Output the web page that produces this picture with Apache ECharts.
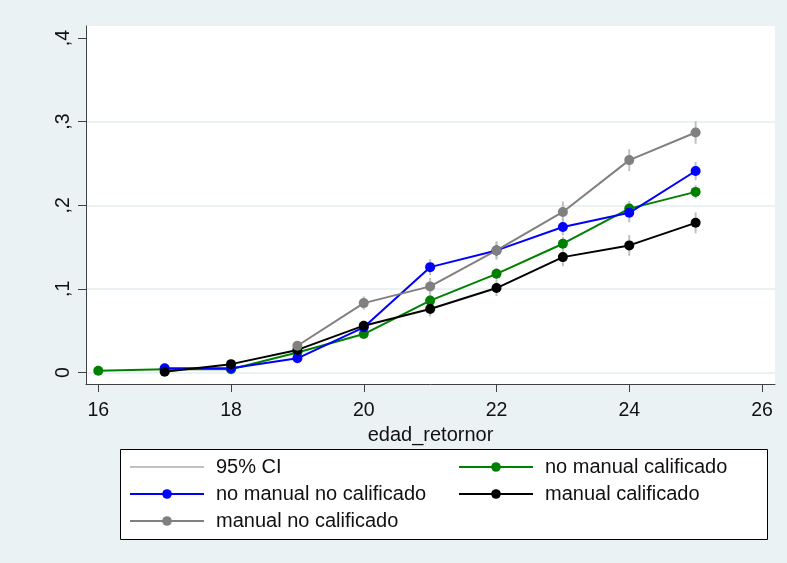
<!DOCTYPE html>
<html>
<head>
<meta charset="utf-8">
<script src="https://cdn.jsdelivr.net/npm/echarts@6/dist/echarts.min.js"></script>
<style>
  html, body { margin: 0; padding: 0; background: #eaf2f3; }
  #chart { width: 787px; height: 563px; }
</style>
</head>
<body>
<div id="chart"></div>
<script>
// edades
var ages = [16, 17, 18, 19, 20, 21, 22, 23, 24, 25];
var xTicks = [16, 18, 20, 22, 24, 26];
var yTicks = [0, 0.1, 0.2, 0.3, 0.4];

// proporciones por grupo (null = sin dato)
var noManualCalif   = [0.002, 0.004, 0.004, 0.024, 0.046, 0.086, 0.118, 0.154, 0.196, 0.216];
var noManualNoCalif = [null, 0.005, 0.005, 0.017, 0.054, 0.126, 0.146, 0.174, 0.191, 0.241];
var manualCalif     = [null, 0.001, 0.010, 0.027, 0.056, 0.076, 0.101, 0.138, 0.152, 0.179];
var manualNoCalif   = [null, null, null, 0.032, 0.083, 0.103, 0.146, 0.192, 0.254, 0.287];

// medio ancho del IC 95%
var ciNoManualCalif   = [0.002, 0.002, 0.002, 0.004, 0.005, 0.007, 0.007, 0.008, 0.009, 0.008];
var ciNoManualNoCalif = [null, 0.003, 0.003, 0.004, 0.006, 0.0095, 0.010, 0.010, 0.0115, 0.011];
var ciManualCalif     = [null, 0.002, 0.003, 0.004, 0.006, 0.009, 0.0095, 0.011, 0.0125, 0.0125];
var ciManualNoCalif   = [null, null, null, 0.005, 0.008, 0.010, 0.011, 0.0125, 0.013, 0.0135];

var groups = [
    { name: 'no manual calificado', vals: noManualCalif, ci: ciNoManualCalif, color: '#008000' },
    { name: 'no manual no calificado', vals: noManualNoCalif, ci: ciNoManualNoCalif, color: '#0000ff' },
    { name: 'manual calificado', vals: manualCalif, ci: ciManualCalif, color: '#000000' },
    { name: 'manual no calificado', vals: manualNoCalif, ci: ciManualNoCalif, color: '#808080' }
];

function toPairs(vals) {
    var out = [];
    ages.forEach(function (a, i) {
        if (vals[i] !== null) out.push([a, vals[i]]);
    });
    return out;
}

var ciData = [];
groups.forEach(function (g) {
    ages.forEach(function (a, i) {
        if (g.vals[i] !== null) ciData.push([a, g.vals[i] - g.ci[i], g.vals[i] + g.ci[i]]);
    });
});

var chart = echarts.init(document.getElementById('chart'), null, { renderer: 'canvas' });

var series = [{
    name: '95% CI',
    type: 'custom',
    data: ciData,
    itemStyle: { color: '#c0c0c0' },
    renderItem: function (params, api) {
        var p1 = api.coord([api.value(0), api.value(1)]);
        var p2 = api.coord([api.value(0), api.value(2)]);
        return {
            type: 'line',
            shape: { x1: p1[0], y1: p1[1], x2: p2[0], y2: p2[1] },
            style: { stroke: '#c0c0c0', lineWidth: 2 }
        };
    }
}];

groups.forEach(function (g) {
    series.push({
        name: g.name,
        type: 'line',
        data: toPairs(g.vals),
        symbol: 'circle',
        symbolSize: 10,
        color: g.color,
        lineStyle: { color: g.color, width: 2 },
        itemStyle: { color: g.color }
    });
});

var fontFam = '"Liberation Sans", Arial, sans-serif';
var legendText = { fontFamily: fontFam, fontSize: 20, color: '#111', padding: [0, 0, 0, 7] };

var option = {
    backgroundColor: '#eaf2f3',
    animation: false,
    grid: {
        left: 86, right: 12, top: 26, bottom: 179,
        show: true, backgroundColor: '#ffffff', borderWidth: 0
    },
    xAxis: {
        type: 'value',
        min: 15.815,
        max: 26.196,
        name: 'edad_retornor',
        nameLocation: 'middle',
        nameGap: 32,
        nameTextStyle: { fontFamily: fontFam, fontSize: 20, color: '#111' },
        axisLine: { show: true, onZero: false, lineStyle: { color: '#404040', width: 1 } },
        axisTick: { show: true, length: 8, customValues: xTicks, lineStyle: { color: '#404040' } },
        axisLabel: { customValues: xTicks, margin: 17, fontFamily: fontFam, fontSize: 19.5, color: '#111' },
        splitLine: { show: false }
    },
    yAxis: {
        type: 'value',
        min: -0.01375,
        max: 0.4144,
        axisLine: { show: true, onZero: false, lineStyle: { color: '#404040', width: 1 } },
        axisTick: { show: true, length: 8, customValues: yTicks, lineStyle: { color: '#404040' } },
        axisLabel: {
            customValues: yTicks,
            rotate: 90,
            margin: 12,
            fontFamily: fontFam, fontSize: 19.5, color: '#111',
            formatter: function (v) {
                return v === 0 ? '0' : ',' + Math.round(v * 10);
            }
        },
        splitLine: {
            show: true,
            lineStyle: { color: ['#eaf2f3', '#eaf2f3', '#eaf2f3', '#eaf2f3', '#ffffff'], width: 2 }
        }
    },
    graphic: [{
        type: 'rect',
        z: -1,
        shape: { x: 120.5, y: 449.5, width: 647, height: 90 },
        style: { fill: '#ffffff', stroke: '#000000', lineWidth: 1 }
    }],
    legend: [{
        orient: 'vertical',
        left: 124, top: 452,
        itemWidth: 74, itemHeight: 12, itemGap: 7,
        textStyle: legendText,
        data: [
            { name: '95% CI', icon: 'path://M0,0 L0,0 M0,5 L74,5 L74,7 L0,7 Z M0,12 L0,12' },
            'no manual no calificado',
            'manual no calificado'
        ]
    }, {
        orient: 'vertical',
        left: 453, top: 452,
        itemWidth: 74, itemHeight: 12, itemGap: 7,
        textStyle: legendText,
        data: ['no manual calificado', 'manual calificado']
    }],
    series: series
};

chart.setOption(option);
</script>
</body>
</html>
